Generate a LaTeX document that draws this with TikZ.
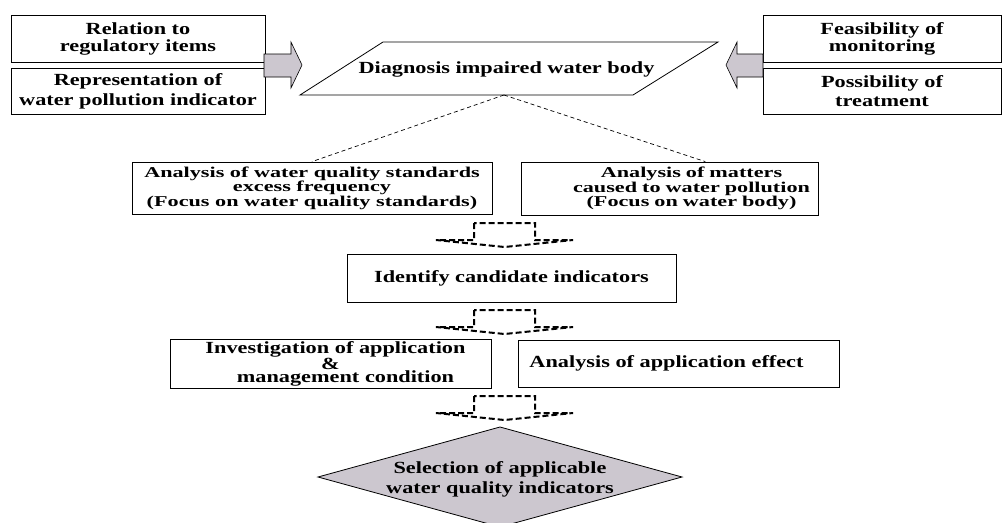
\documentclass[tikz,border=0pt]{standalone}
\usepackage{fontspec}
\setmainfont{Liberation Serif}
\newfontfamily\dfont[FakeStretch=1.31]{Liberation Serif}
\newfontfamily\afont[FakeStretch=1.48]{Liberation Serif}
\usetikzlibrary{shapes.geometric,calc}
\definecolor{blockgray}{RGB}{204,199,207}
\begin{document}
\begin{tikzpicture}[x=1pt,y=-1pt,
  wbox/.style={draw=black, line width=0.8pt, fill=white, inner sep=2pt, align=center},
  tf/.style={font=\dfont\bfseries\fontsize{17}{#1}\selectfont},
  af/.style={font=\afont\bfseries\fontsize{15}{14.5}\selectfont},
  thinDash/.style={draw=black, line width=0.7pt, dash pattern=on 4pt off 3pt},
  blockDash/.style={draw=black, line width=2pt, dash pattern=on 6pt off 3pt, line join=miter},
  garrow/.style={draw=black, line width=0.6pt, fill=blockgray},
  dblock/.pic={\path[blockDash] (-30.5,0) -- (-30.5,17) -- (-68.5,17) -- (0,24) -- (68.5,17) -- (30.5,17) -- (30.5,0) -- cycle;}
]
\useasboundingbox (0,0) rectangle (1003,522);
\clip (0,0) rectangle (1003,522);
\fill[white] (0,0) rectangle (1003,522);

% top left boxes
\node[wbox, tf=17, minimum width=254pt, minimum height=47pt] (rel) at (138,38.5) {Relation to\\regulatory items};
\node[wbox, tf=20, minimum width=254pt, minimum height=46pt] (rep) at (138,91) {Representation of\\water pollution indicator};
% top right boxes
\node[wbox, tf=17, minimum width=238pt, minimum height=47pt] (fea) at (882,38.5) {Feasibility of\\monitoring};
\node[wbox, tf=19, minimum width=238pt, minimum height=46pt] (pos) at (882,91) {Possibility of\\treatment};

% gray block arrows
\path[garrow] (264,54) -- (291,54) -- (291,42) -- (302,65) -- (291,88) -- (291,77) -- (264,77) -- cycle;
\path[garrow] (763,54) -- (737,54) -- (737,42) -- (726,65) -- (737,88) -- (737,77) -- (763,77) -- cycle;

% parallelogram
\draw[line width=0.8pt] (300,95) -- (383,42) -- (718,42) -- (633,95) -- cycle;
\node[tf=17] (diag) at (506.5,69) {Diagnosis impaired water body};
\coordinate (dg) at (504,95);

% analysis boxes
\node[wbox, af, minimum width=360pt, minimum height=52pt] (an1) at (312,188) {Analysis of water quality standards\\excess frequency\\(Focus on water quality standards)};
\node[wbox, af, minimum width=297pt, minimum height=53pt, text width=293pt] (an2) at (669.5,188.5) {\hspace*{44pt}Analysis of matters\\\hspace*{44pt}caused to water pollution\\\hspace*{44pt}(Focus on water body)};

\draw[thinDash] (dg) -- (an1.north);
\draw[thinDash] (dg) -- ($(an2.north west)!0.62!(an2.north east)$);

% identify
\node[wbox, tf=17, minimum width=329pt, minimum height=48pt] (idc) at (511.5,278) {Identify candidate indicators};

% bottom boxes
\node[wbox, tf=11, minimum width=321pt, minimum height=46pt, text width=317pt] (inv) at (330.5,364) {\hspace*{10pt}Investigation of application\\\&\\\hspace*{30pt}management condition};
\node[wbox, tf=17, align=left, minimum width=321pt, minimum height=47pt] (eff) at (678.5,363.5) {Analysis of application effect\hspace*{24pt}};

% diamond
\path[draw=black, line width=0.8pt, fill=blockgray] (318,477) -- (500,427) -- (682,477) -- (500,527) -- cycle;
\node[tf=20, align=center] (sel) at (500,479) {Selection of applicable\\water quality indicators};

% dashed block arrows
\pic at (504.5,223) {dblock};
\pic at (504.5,310) {dblock};
\pic at (504.5,396) {dblock};
\end{tikzpicture}
\end{document}
